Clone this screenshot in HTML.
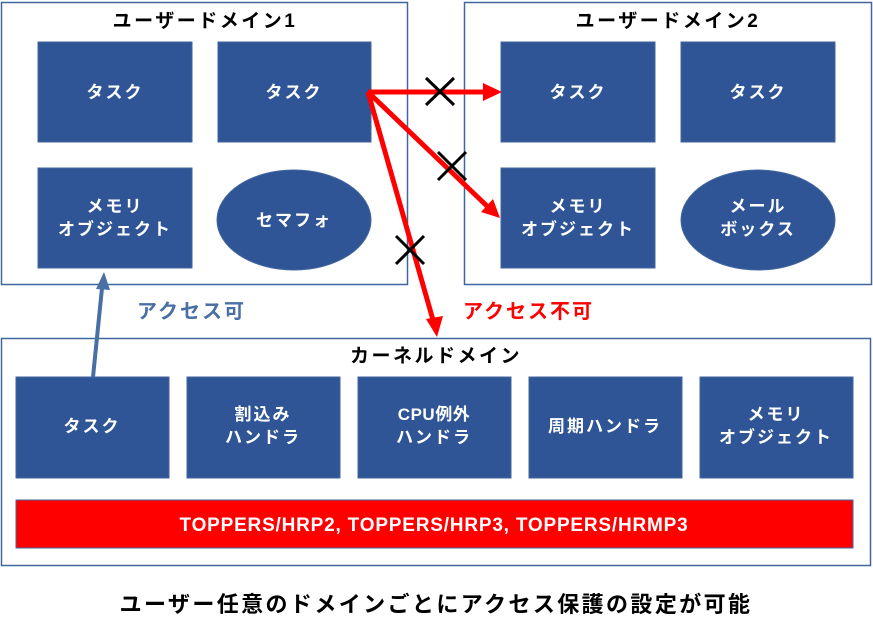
<!DOCTYPE html>
<html><head><meta charset="utf-8"><style>
body{margin:0;background:#fff}
svg{display:block}
text{font-family:"Liberation Sans","Noto Sans CJK JP",sans-serif;font-weight:bold}
.w{fill:#fff;font-size:17px;text-anchor:middle;letter-spacing:2px}
.t{fill:#000;font-size:19px;text-anchor:middle;letter-spacing:2.5px}
.b{fill:#2f5597;stroke:#41669e;stroke-width:1}
</style></head><body>
<svg width="873" height="635" viewBox="0 0 873 635">
<rect x="1.5" y="2.5" width="406" height="282" fill="#fff" stroke="#41669e" stroke-width="1.5"/>
<rect x="464.5" y="2.5" width="407" height="282" fill="#fff" stroke="#41669e" stroke-width="1.5"/>
<rect x="1.5" y="338.5" width="869" height="227" fill="#fff" stroke="#41669e" stroke-width="1.5"/>
<text class="t" x="205" y="27">ユーザードメイン1</text>
<text class="t" x="668" y="27">ユーザードメイン2</text>
<text class="t" x="436" y="362">カーネルドメイン</text>

<rect class="b" x="38" y="42" width="154" height="100"/><text class="w" x="115" y="98">タスク</text>
<rect class="b" x="218" y="42" width="153" height="100"/><text class="w" x="294" y="98">タスク</text>
<rect class="b" x="38" y="168" width="154" height="100"/><text class="w" x="115" y="212">メモリ</text><text class="w" x="115" y="235">オブジェクト</text>
<ellipse class="b" cx="294" cy="220" rx="77" ry="50"/><text class="w" x="294" y="226">セマフォ</text>

<rect class="b" x="501" y="42" width="154" height="100"/><text class="w" x="578" y="98">タスク</text>
<rect class="b" x="681" y="42" width="154" height="100"/><text class="w" x="758" y="98">タスク</text>
<rect class="b" x="501" y="168" width="154" height="100"/><text class="w" x="578" y="212">メモリ</text><text class="w" x="578" y="235">オブジェクト</text>
<ellipse class="b" cx="758" cy="220" rx="77" ry="50"/><text class="w" x="758" y="212">メール</text><text class="w" x="758" y="235">ボックス</text>

<rect class="b" x="16" y="377" width="153" height="101"/><text class="w" x="92" y="432">タスク</text>
<rect class="b" x="187" y="377" width="153" height="101"/><text class="w" x="263" y="420">割込み</text><text class="w" x="263" y="443">ハンドラ</text>
<rect class="b" x="358" y="377" width="153" height="101"/><text class="w" x="434" y="420" style="letter-spacing:0.5px">CPU例外</text><text class="w" x="434" y="443">ハンドラ</text>
<rect class="b" x="529" y="377" width="153" height="101"/><text class="w" x="605" y="432">周期ハンドラ</text>
<rect class="b" x="700" y="377" width="153" height="101"/><text class="w" x="776" y="420">メモリ</text><text class="w" x="776" y="443">オブジェクト</text>
<rect x="16" y="500" width="837" height="48" fill="#ff0000" stroke="#41669e" stroke-width="1"/>
<text class="w" x="434" y="531" style="letter-spacing:0.8px;font-size:19px">TOPPERS/HRP2, TOPPERS/HRP3, TOPPERS/HRMP3</text>

<line x1="93" y1="377" x2="102" y2="288" stroke="#4a6fa5" stroke-width="4"/>
<polygon points="104,272 110,290 96,289" fill="#4a6fa5"/>
<text x="137" y="318" style="font-size:20px;letter-spacing:2px;fill:#4a6fa5">アクセス可</text>
<text x="463" y="318" style="font-size:20px;letter-spacing:2px;fill:#ff0000">アクセス不可</text>

<g stroke="#ff0000" stroke-width="5" fill="none">
<line x1="368" y1="92" x2="486" y2="92"/>
<line x1="368" y1="92" x2="488" y2="207"/>
<line x1="368" y1="92" x2="433" y2="320"/>
</g>
<polygon points="502,92 483,83 483,101" fill="#ff0000"/>
<polygon points="500,218 481,212 493,199" fill="#ff0000"/>
<polygon points="437,337 426,319 443,316" fill="#ff0000"/>
<g stroke="#000" stroke-width="3">
<line x1="426" y1="78" x2="454" y2="105"/><line x1="454" y1="78" x2="426" y2="105"/>
<line x1="438" y1="152" x2="466" y2="180"/><line x1="466" y1="152" x2="438" y2="180"/>
<line x1="396" y1="236" x2="424" y2="264"/><line x1="424" y1="236" x2="396" y2="264"/>
</g>
<text x="436" y="612" style="font-size:22px;letter-spacing:2.4px;text-anchor:middle;fill:#000">ユーザー任意のドメインごとにアクセス保護の設定が可能</text>
</svg>
</body></html>
